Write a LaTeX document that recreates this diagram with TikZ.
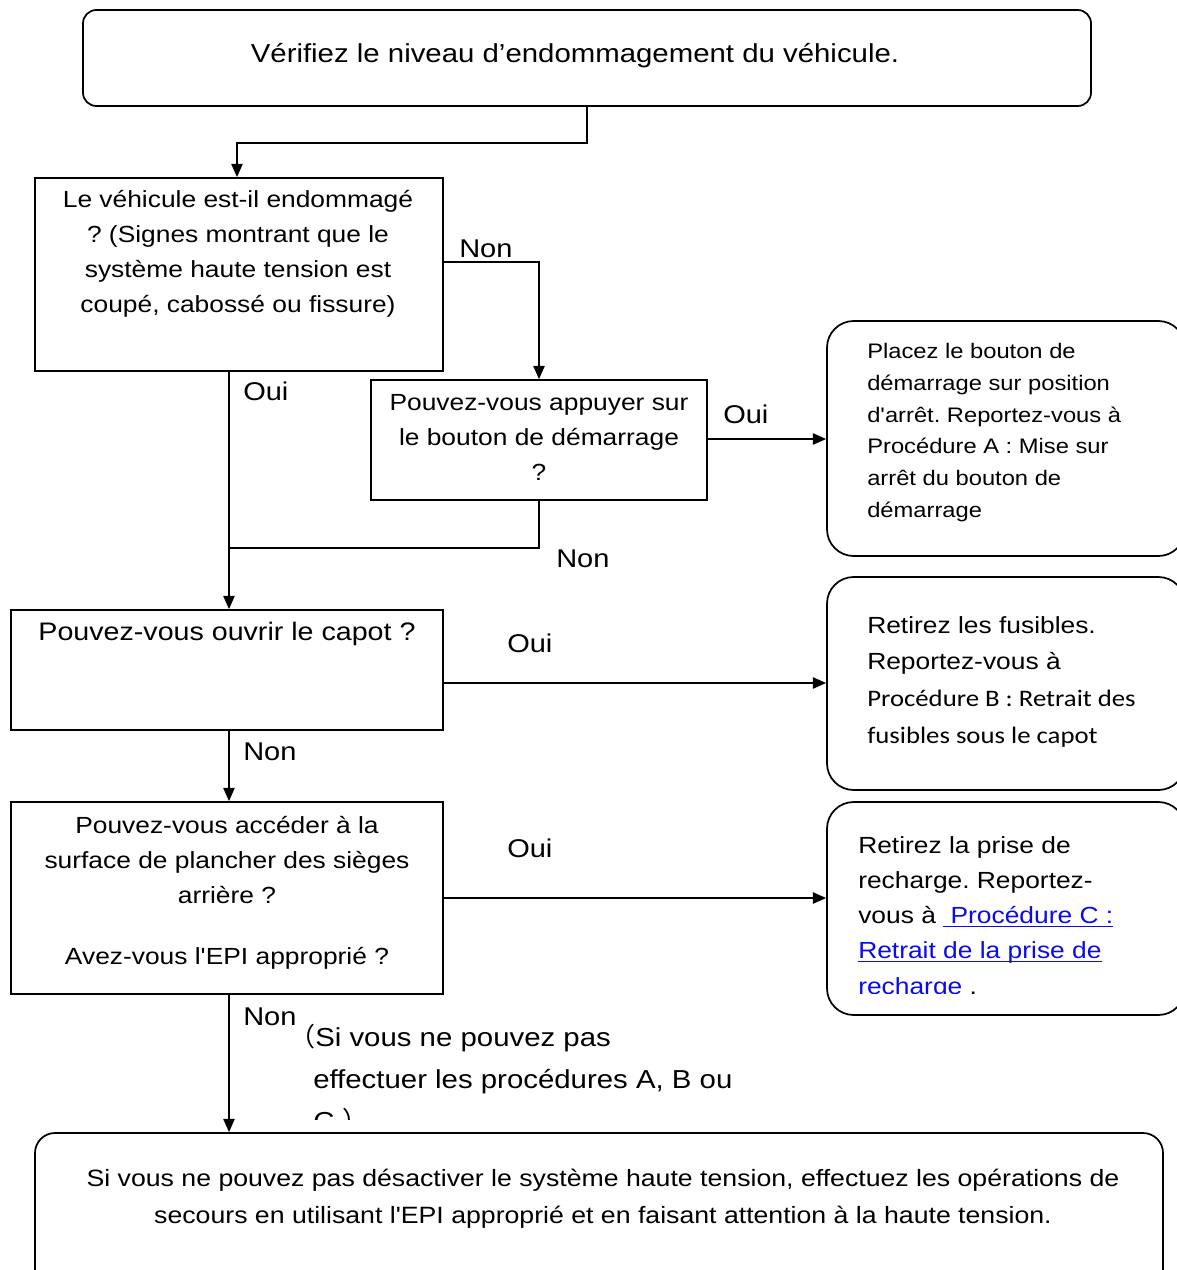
\documentclass[tikz,border=0pt]{standalone}
\usepackage{fontspec}
\setmainfont{Liberation Sans}[FakeStretch=1.13,Ligatures=TeXOff]
\newfontfamily\carl{Carlito}[FakeStretch=1.13,Ligatures=TeXOff]
\newfontfamily\cjk{Noto Sans CJK SC}
\usetikzlibrary{arrows.meta,fit}
\definecolor{linkblue}{RGB}{10,10,235}
\newcommand\mainsz{\fontsize{17.5pt}{26.4pt}\selectfont}
\newcommand\labsz{\fontsize{19.25pt}{24pt}\selectfont}
\newcommand\lnk[1]{{\color{linkblue}\setbox0=\hbox{#1}\rlap{\rule[-2.6pt]{\wd0}{0.9pt}}\box0}}
\frenchspacing
\begin{document}
\frenchspacing
\begin{tikzpicture}[x=0.75pt,y=-0.75pt,
  box/.style={draw, inner sep=0pt, line width=1.3pt},
  rbox/.style={box, rounded corners=#1},
  txt/.style={inner sep=0pt, font=\mainsz, align=center},
  ltxt/.style={inner sep=0pt, font=\mainsz, align=left, anchor=north west},
  lab/.style={inner sep=0pt, font=\labsz, anchor=base west},
  arr/.style={-{Triangle[length=10pt,width=8.5pt]}, line width=1.3pt},
  ln/.style={line width=1.3pt}]
\useasboundingbox (0,0) rectangle (1177,1270);
\clip (0,0) rectangle (1177,1270);

% boxes
\node[rbox=10pt, fit={(83,10)(1091,106)}] (top) {};
\node[txt, anchor=base, font=\fontsize{19.5pt}{24pt}\selectfont] (toptxt) at (575,63) {Vérifiez le niveau d’endommagement du véhicule.};

\node[box, fit={(35,178)(443,371)}] (q1) {};
\node[txt, anchor=north] (q1txt) at (238,182.4) {\strut Le véhicule est-il endommagé\\? (Signes montrant que le\\système haute tension est\\coupé, cabossé ou fissure)};

\node[box, fit={(371,380)(707,500)}] (q2) {};
\node[txt, anchor=north] (q2txt) at (539,385.4) {\strut Pouvez-vous appuyer sur\\le bouton de démarrage\\?};

\node[rbox=20pt, fit={(827,321)(1185,556)}] (pa) {};
\node[ltxt, font=\fontsize{15.75pt}{23.9pt}\selectfont] (patxt) at (867,335.7) {\strut Placez le bouton de\\démarrage sur position\\d'arrêt. Reportez-vous à\\Procédure A : Mise sur\\arrêt du bouton de\\démarrage};

\node[box, fit={(11,610)(443,730)}] (q3) {};
\node[txt, anchor=base, font=\fontsize{19pt}{24pt}\selectfont] (q3txt) at (227,640) {Pouvez-vous ouvrir le capot ?};

\node[rbox=20pt, fit={(827,577)(1185,790)}] (pb) {};
\node[ltxt, font=\fontsize{17.5pt}{27.5pt}\selectfont] (pbtxt) at (867,607.3) {\strut Retirez les fusibles.\\Reportez-vous à\\{\carl\fontsize{17.75pt}{27.5pt}\selectfont Procédure B : Retrait des}\\{\carl\fontsize{17.75pt}{27.5pt}\selectfont fusibles sous le capot}};

\node[box, fit={(11,802)(443,994)}] (q4) {};
\node[txt, anchor=north] (q4txt) at (227,808.4) {\strut Pouvez-vous accéder à la\\surface de plancher des sièges\\arrière ?\\[19.35pt]Avez-vous l'EPI approprié ?};

\node[rbox=20pt, fit={(827,802)(1185,1015)}] (pc) {};
\begin{scope}
\clip (0,0) rectangle (1177,993);
\node[ltxt] (pctxt) at (858,828.4) {\strut Retirez la prise de\\recharge. Reportez-\\vous à \lnk{\ Procédure C :}\\\lnk{Retrait de la prise de}\\\lnk{recharge} .};
\end{scope}

\node[rbox=15pt, fit={(35,1133)(1163,1295)}] (bot) {};
\node[txt, anchor=north, font=\fontsize{17.7pt}{27.75pt}\selectfont] (bottxt) at (603,1160.1) {\strut Si vous ne pouvez pas désactiver le système haute tension, effectuez les opérations de\\secours en utilisant l'EPI approprié et en faisant attention à la haute tension.};

\begin{scope}
\clip (0,0) rectangle (1177,1119);
\node[ltxt, font=\fontsize{19.5pt}{31.5pt}\selectfont] (note) at (313,1016.6) {\strut\hspace*{-18pt}{\cjk （}Si vous ne pouvez pas\\effectuer les procédures A, B ou\\C {\cjk ）}};
\end{scope}

% labels
\node[lab] (n1) at (459,257) {Non};
\node[lab] (o1) at (243,400) {Oui};
\node[lab] (o2) at (723,423) {Oui};
\node[lab] (n2) at (556,567) {Non};
\node[lab] (o3) at (507,652) {Oui};
\node[lab] (n3) at (243,760) {Non};
\node[lab] (o4) at (507,857) {Oui};
\node[lab] (n4) at (243,1025) {Non};

% connectors
\coordinate (c1) at (587,143);
\coordinate (c2) at (237,143);
\draw[arr] (top.south -| c1) -- (c1) -- (c2) -- (q1.north -| c2);
\coordinate (c3) at (539,262);
\draw[arr] (q1.east |- c3) -- (c3) -- (q2.north -| c3);
\coordinate (c4) at (229,0);
\draw[arr] (q1.south -| c4) -- (q3.north -| c4);
\coordinate (c5) at (539,548);
\coordinate (c6) at (229,548);
\draw[ln] (q2.south -| c5) -- (c5) -- (c6);
\coordinate (c7) at (0,439);
\draw[arr] (q2.east |- c7) -- (pa.west |- c7);
\coordinate (c8) at (0,683);
\draw[arr] (q3.east |- c8) -- (pb.west |- c8);
\draw[arr] (q3.south -| c4) -- (q4.north -| c4);
\coordinate (c9) at (0,898);
\draw[arr] (q4.east |- c9) -- (pc.west |- c9);
\draw[arr] (q4.south -| c4) -- (bot.north -| c4);
\end{tikzpicture}
\end{document}
